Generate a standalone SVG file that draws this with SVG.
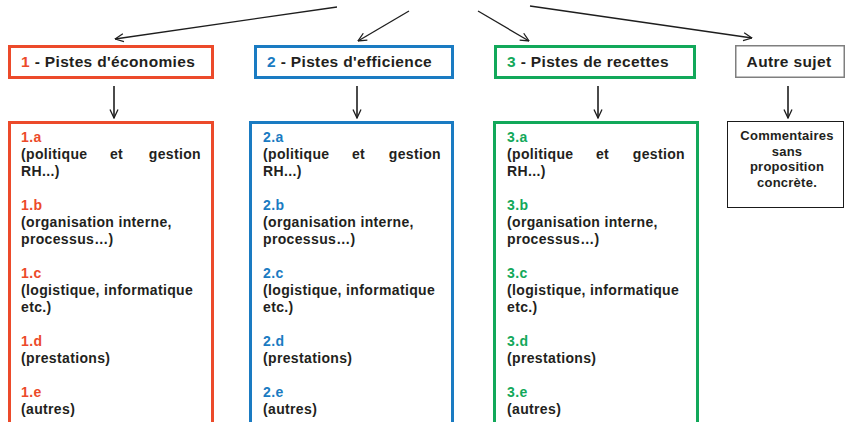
<svg xmlns="http://www.w3.org/2000/svg" width="848" height="422" viewBox="0 0 848 422">
<style>
  .hd{font-family:"Liberation Sans",Arial,sans-serif;font-weight:bold;font-size:15.5px;letter-spacing:0.35px;fill:#231f20}
  .tx{font-family:"Liberation Sans",Arial,sans-serif;font-weight:bold;font-size:14px;letter-spacing:0.35px;fill:#231f20}
  .cm{font-family:"Liberation Sans",Arial,sans-serif;font-weight:bold;font-size:13px;letter-spacing:0.25px;fill:#231f20;text-anchor:middle}
  .red{fill:#ec4a2a}.blue{fill:#1a7bc2}.green{fill:#12a85a}
  .bx{fill:#fff;stroke-width:3}
  .br{stroke:#ec4a2a}.bb{stroke:#1a7bc2}.bg{stroke:#12a85a}
  .conn{stroke:#1e1e1e;stroke-width:1.3;fill:none;marker-end:url(#ah)}
  .vconn{stroke-width:1.6}
</style>
<defs>
  <marker id="ah" viewBox="0 0 10 10" refX="9.5" refY="5" markerWidth="10" markerHeight="10" markerUnits="userSpaceOnUse" orient="auto">
    <path d="M1,1 L9.5,5 L1,9" fill="none" stroke="#1e1e1e" stroke-width="1.3"/>
  </marker>
</defs>
<rect width="848" height="422" fill="#fff"/>

<g id="connectors">
  <line class="conn" x1="337" y1="7" x2="115" y2="39"/>
  <line class="conn" x1="409" y1="11" x2="358" y2="41"/>
  <line class="conn" x1="478" y1="11" x2="529" y2="41"/>
  <line class="conn" x1="530" y1="6" x2="752" y2="38"/>
  <line class="conn vconn" x1="114" y1="86" x2="114" y2="118"/>
  <line class="conn vconn" x1="357" y1="86" x2="357" y2="118"/>
  <line class="conn vconn" x1="598" y1="86" x2="598" y2="118"/>
  <line class="conn vconn" x1="788" y1="86" x2="788" y2="118"/>
</g>

<g id="h1">
  <rect class="bx br" x="9.5" y="46.5" width="203" height="31"/>
  <text class="hd" x="21" y="67"><tspan class="red">1</tspan> - Pistes d'économies</text>
</g>
<g id="h2">
  <rect class="bx bb" x="255.5" y="46.5" width="197" height="31"/>
  <text class="hd" x="267" y="67"><tspan class="blue">2</tspan> - Pistes d'efficience</text>
</g>
<g id="h3">
  <rect class="bx bg" x="495.5" y="46.5" width="199" height="31"/>
  <text class="hd" x="507" y="67"><tspan class="green">3</tspan> - Pistes de recettes</text>
</g>
<g id="h4">
  <rect x="735.75" y="45.75" width="108.5" height="31.5" fill="#fff" stroke="#7f7f7f" stroke-width="1.5"/>
  <text class="hd" x="789" y="67" text-anchor="middle">Autre sujet</text>
</g>

<g id="c1">
  <rect class="bx br" x="9.5" y="122.5" width="203" height="320"/>
  <text class="tx red" x="21" y="142">1.a</text>
  <text class="tx" x="21" y="159">(politique</text>
  <text class="tx" x="116.5" y="159" text-anchor="middle">et</text>
  <text class="tx" x="201" y="159" text-anchor="end">gestion</text>
  <text class="tx" x="21" y="176">RH...)</text>
  <text class="tx red" x="21" y="210">1.b</text>
  <text class="tx" x="21" y="227">(organisation interne,</text>
  <text class="tx" x="21" y="244">processus…)</text>
  <text class="tx red" x="21" y="278">1.c</text>
  <text class="tx" x="21" y="295">(logistique, informatique</text>
  <text class="tx" x="21" y="312">etc.)</text>
  <text class="tx red" x="21" y="346">1.d</text>
  <text class="tx" x="21" y="363">(prestations)</text>
  <text class="tx red" x="21" y="397">1.e</text>
  <text class="tx" x="21" y="414">(autres)</text>
</g>
<g id="c2">
  <rect class="bx bb" x="250.5" y="122.5" width="202" height="320"/>
  <text class="tx blue" x="263" y="142">2.a</text>
  <text class="tx" x="263" y="159">(politique</text>
  <text class="tx" x="358.5" y="159" text-anchor="middle">et</text>
  <text class="tx" x="441" y="159" text-anchor="end">gestion</text>
  <text class="tx" x="263" y="176">RH...)</text>
  <text class="tx blue" x="263" y="210">2.b</text>
  <text class="tx" x="263" y="227">(organisation interne,</text>
  <text class="tx" x="263" y="244">processus…)</text>
  <text class="tx blue" x="263" y="278">2.c</text>
  <text class="tx" x="263" y="295">(logistique, informatique</text>
  <text class="tx" x="263" y="312">etc.)</text>
  <text class="tx blue" x="263" y="346">2.d</text>
  <text class="tx" x="263" y="363">(prestations)</text>
  <text class="tx blue" x="263" y="397">2.e</text>
  <text class="tx" x="263" y="414">(autres)</text>
</g>
<g id="c3">
  <rect class="bx bg" x="494.5" y="122.5" width="203" height="320"/>
  <text class="tx green" x="507" y="142">3.a</text>
  <text class="tx" x="507" y="159">(politique</text>
  <text class="tx" x="602.5" y="159" text-anchor="middle">et</text>
  <text class="tx" x="685" y="159" text-anchor="end">gestion</text>
  <text class="tx" x="507" y="176">RH...)</text>
  <text class="tx green" x="507" y="210">3.b</text>
  <text class="tx" x="507" y="227">(organisation interne,</text>
  <text class="tx" x="507" y="244">processus…)</text>
  <text class="tx green" x="507" y="278">3.c</text>
  <text class="tx" x="507" y="295">(logistique, informatique</text>
  <text class="tx" x="507" y="312">etc.)</text>
  <text class="tx green" x="507" y="346">3.d</text>
  <text class="tx" x="507" y="363">(prestations)</text>
  <text class="tx green" x="507" y="397">3.e</text>
  <text class="tx" x="507" y="414">(autres)</text>
</g>
<g id="c4">
  <rect x="727.5" y="121.5" width="116" height="86" fill="#fff" stroke="#1a1a1a" stroke-width="1"/>
  <text class="cm" x="787" y="140">Commentaires</text>
  <text class="cm" x="787" y="155.5">sans</text>
  <text class="cm" x="787" y="171">proposition</text>
  <text class="cm" x="787" y="186.5">concrète.</text>
</g>
</svg>
